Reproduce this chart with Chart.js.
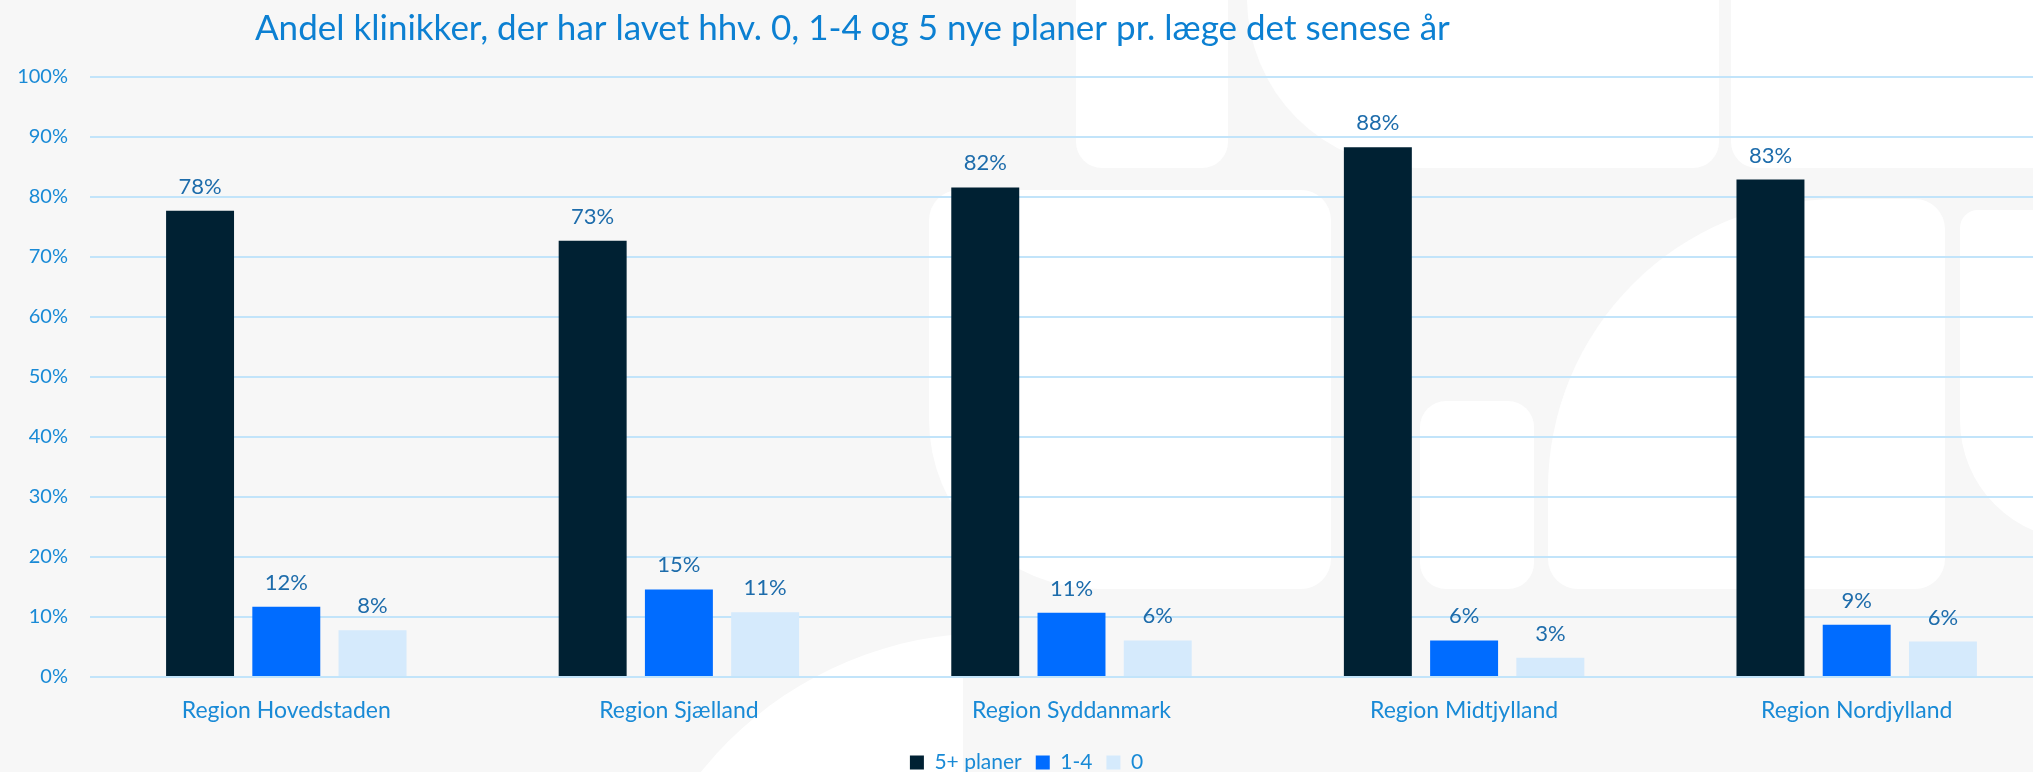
<!DOCTYPE html>
<html>
<head>
<meta charset="utf-8">
<script src="https://cdn.jsdelivr.net/npm/chart.js@4.4.1/dist/chart.umd.min.js"></script>
<style>
    html, body { margin: 0; padding: 0; overflow: hidden; background: #f7f7f7; }
    #wrap { position: relative; width: 2056px; height: 772px; }
</style>
</head>
<body>
<div id="wrap"><canvas id="planChart" width="2056" height="772"></canvas></div>
<script>
// Chart data
const chartTitle = 'Andel klinikker, der har lavet hhv. 0, 1-4 og 5 nye planer pr. læge det senese år';
const regions = ['Region Hovedstaden', 'Region Sjælland', 'Region Syddanmark', 'Region Midtjylland', 'Region Nordjylland'];
const seriesNames = ['5+ planer', '1-4', '0'];
const fivePlus = [77.7, 72.7, 81.6, 88.3, 82.9];
const oneToFour = [11.7, 14.6, 10.7, 6.1, 8.7];
const zeroPlans = [7.8, 10.8, 6.1, 3.2, 5.9];
const yTicks = [0, 10, 20, 30, 40, 50, 60, 70, 80, 90, 100];

const seriesColors = ['#002133', '#006cff', '#d5eafc'];
const fontFamily = 'Lato, "Open Sans", sans-serif';

// Faint white logo shapes behind the plot
const watermark = {
    id: 'watermark',
    beforeDraw(chart) {
        const ctx = chart.ctx;
        ctx.save();
        ctx.fillStyle = '#f7f7f7';
        ctx.fillRect(0, 0, chart.width, chart.height);
        ctx.fillStyle = '#ffffff';
        const shapes = [
            [1076, -40, 152, 208, [0, 0, 26, 26]],
            [1247, -40, 472, 208, [0, 0, 26, 170]],
            [1731, -40, 360, 208, [0, 0, 0, 26]],
            [929, 190, 402, 399, [30, 30, 30, 170]],
            [1420, 401, 114, 188, [26, 26, 26, 26]],
            [1548, 199, 397, 390, [290, 30, 30, 30]],
            [1960, 210, 120, 330, [30, 0, 0, 200]]
        ];
        shapes.forEach(s => {
            ctx.beginPath();
            ctx.roundRect(s[0], s[1], s[2], s[3], s[4]);
            ctx.fill();
        });
        // bottom arc
        ctx.beginPath();
        ctx.rect(0, 600, 963, 172);
        ctx.clip();
        ctx.beginPath();
        ctx.arc(990, 1003, 370, 0, Math.PI * 2);
        ctx.fill();
        ctx.restore();
    }
};

// Title drawn at the left like the original
const titlePlugin = {
    id: 'leftTitle',
    afterDraw(chart) {
        const ctx = chart.ctx;
        ctx.save();
        ctx.font = '35px ' + fontFamily;
        ctx.fillStyle = '#0c80d2';
        ctx.textAlign = 'left';
        ctx.textBaseline = 'middle';
        ctx.fillText(chartTitle, 255, 29);
        ctx.restore();
    }
};

// Percent labels above each bar
const valueLabels = {
    id: 'valueLabels',
    afterDatasetsDraw(chart) {
        const ctx = chart.ctx;
        ctx.save();
        ctx.font = '22px ' + fontFamily;
        ctx.fillStyle = '#1d6cab';
        ctx.textAlign = 'center';
        ctx.textBaseline = 'middle';
        chart.data.datasets.forEach((ds, i) => {
            chart.getDatasetMeta(i).data.forEach((bar, j) => {
                ctx.fillText(Math.round(ds.data[j]) + '%', bar.x, bar.y - 24);
            });
        });
        ctx.restore();
    }
};

const ctx = document.getElementById('planChart').getContext('2d');
new Chart(ctx, {
    type: 'bar',
    data: {
        labels: regions,
        datasets: [
            { label: seriesNames[0], data: fivePlus, backgroundColor: seriesColors[0] },
            { label: seriesNames[1], data: oneToFour, backgroundColor: seriesColors[1] },
            { label: seriesNames[2], data: zeroPlans, backgroundColor: seriesColors[2] }
        ]
    },
    options: {
        responsive: false,
        animation: false,
        layout: { padding: { top: 77, right: 3, left: 0, bottom: 0 } },
        datasets: {
            bar: { categoryPercentage: 0.659, barPercentage: 0.788 }
        },
        plugins: {
            title: { display: false },
            tooltip: { enabled: false },
            legend: {
                position: 'bottom',
                maxHeight: 34,
                labels: {
                    boxWidth: 14,
                    boxHeight: 14,
                    padding: 14,
                    color: '#198ad6',
                    font: { family: fontFamily, size: 21 }
                }
            }
        },
        scales: {
            x: {
                grid: { display: false },
                border: { display: false },
                ticks: {
                    color: '#198ad6',
                    padding: 12,
                    font: { family: fontFamily, size: 23 }
                },
                afterFit(scale) { scale.height = 61; }
            },
            y: {
                min: 0,
                max: 100,
                afterBuildTicks(scale) { scale.ticks = yTicks.map(v => ({ value: v })); },
                afterFit(scale) { scale.width = 90; },
                grid: { color: '#c2e4fa', lineWidth: 2, drawTicks: false },
                border: { display: false },
                ticks: {
                    color: '#198ad6',
                    padding: 22,
                    font: { family: fontFamily, size: 20 },
                    callback: v => v + '%'
                }
            }
        }
    },
    plugins: [watermark, titlePlugin, valueLabels]
});
</script>
</body>
</html>
